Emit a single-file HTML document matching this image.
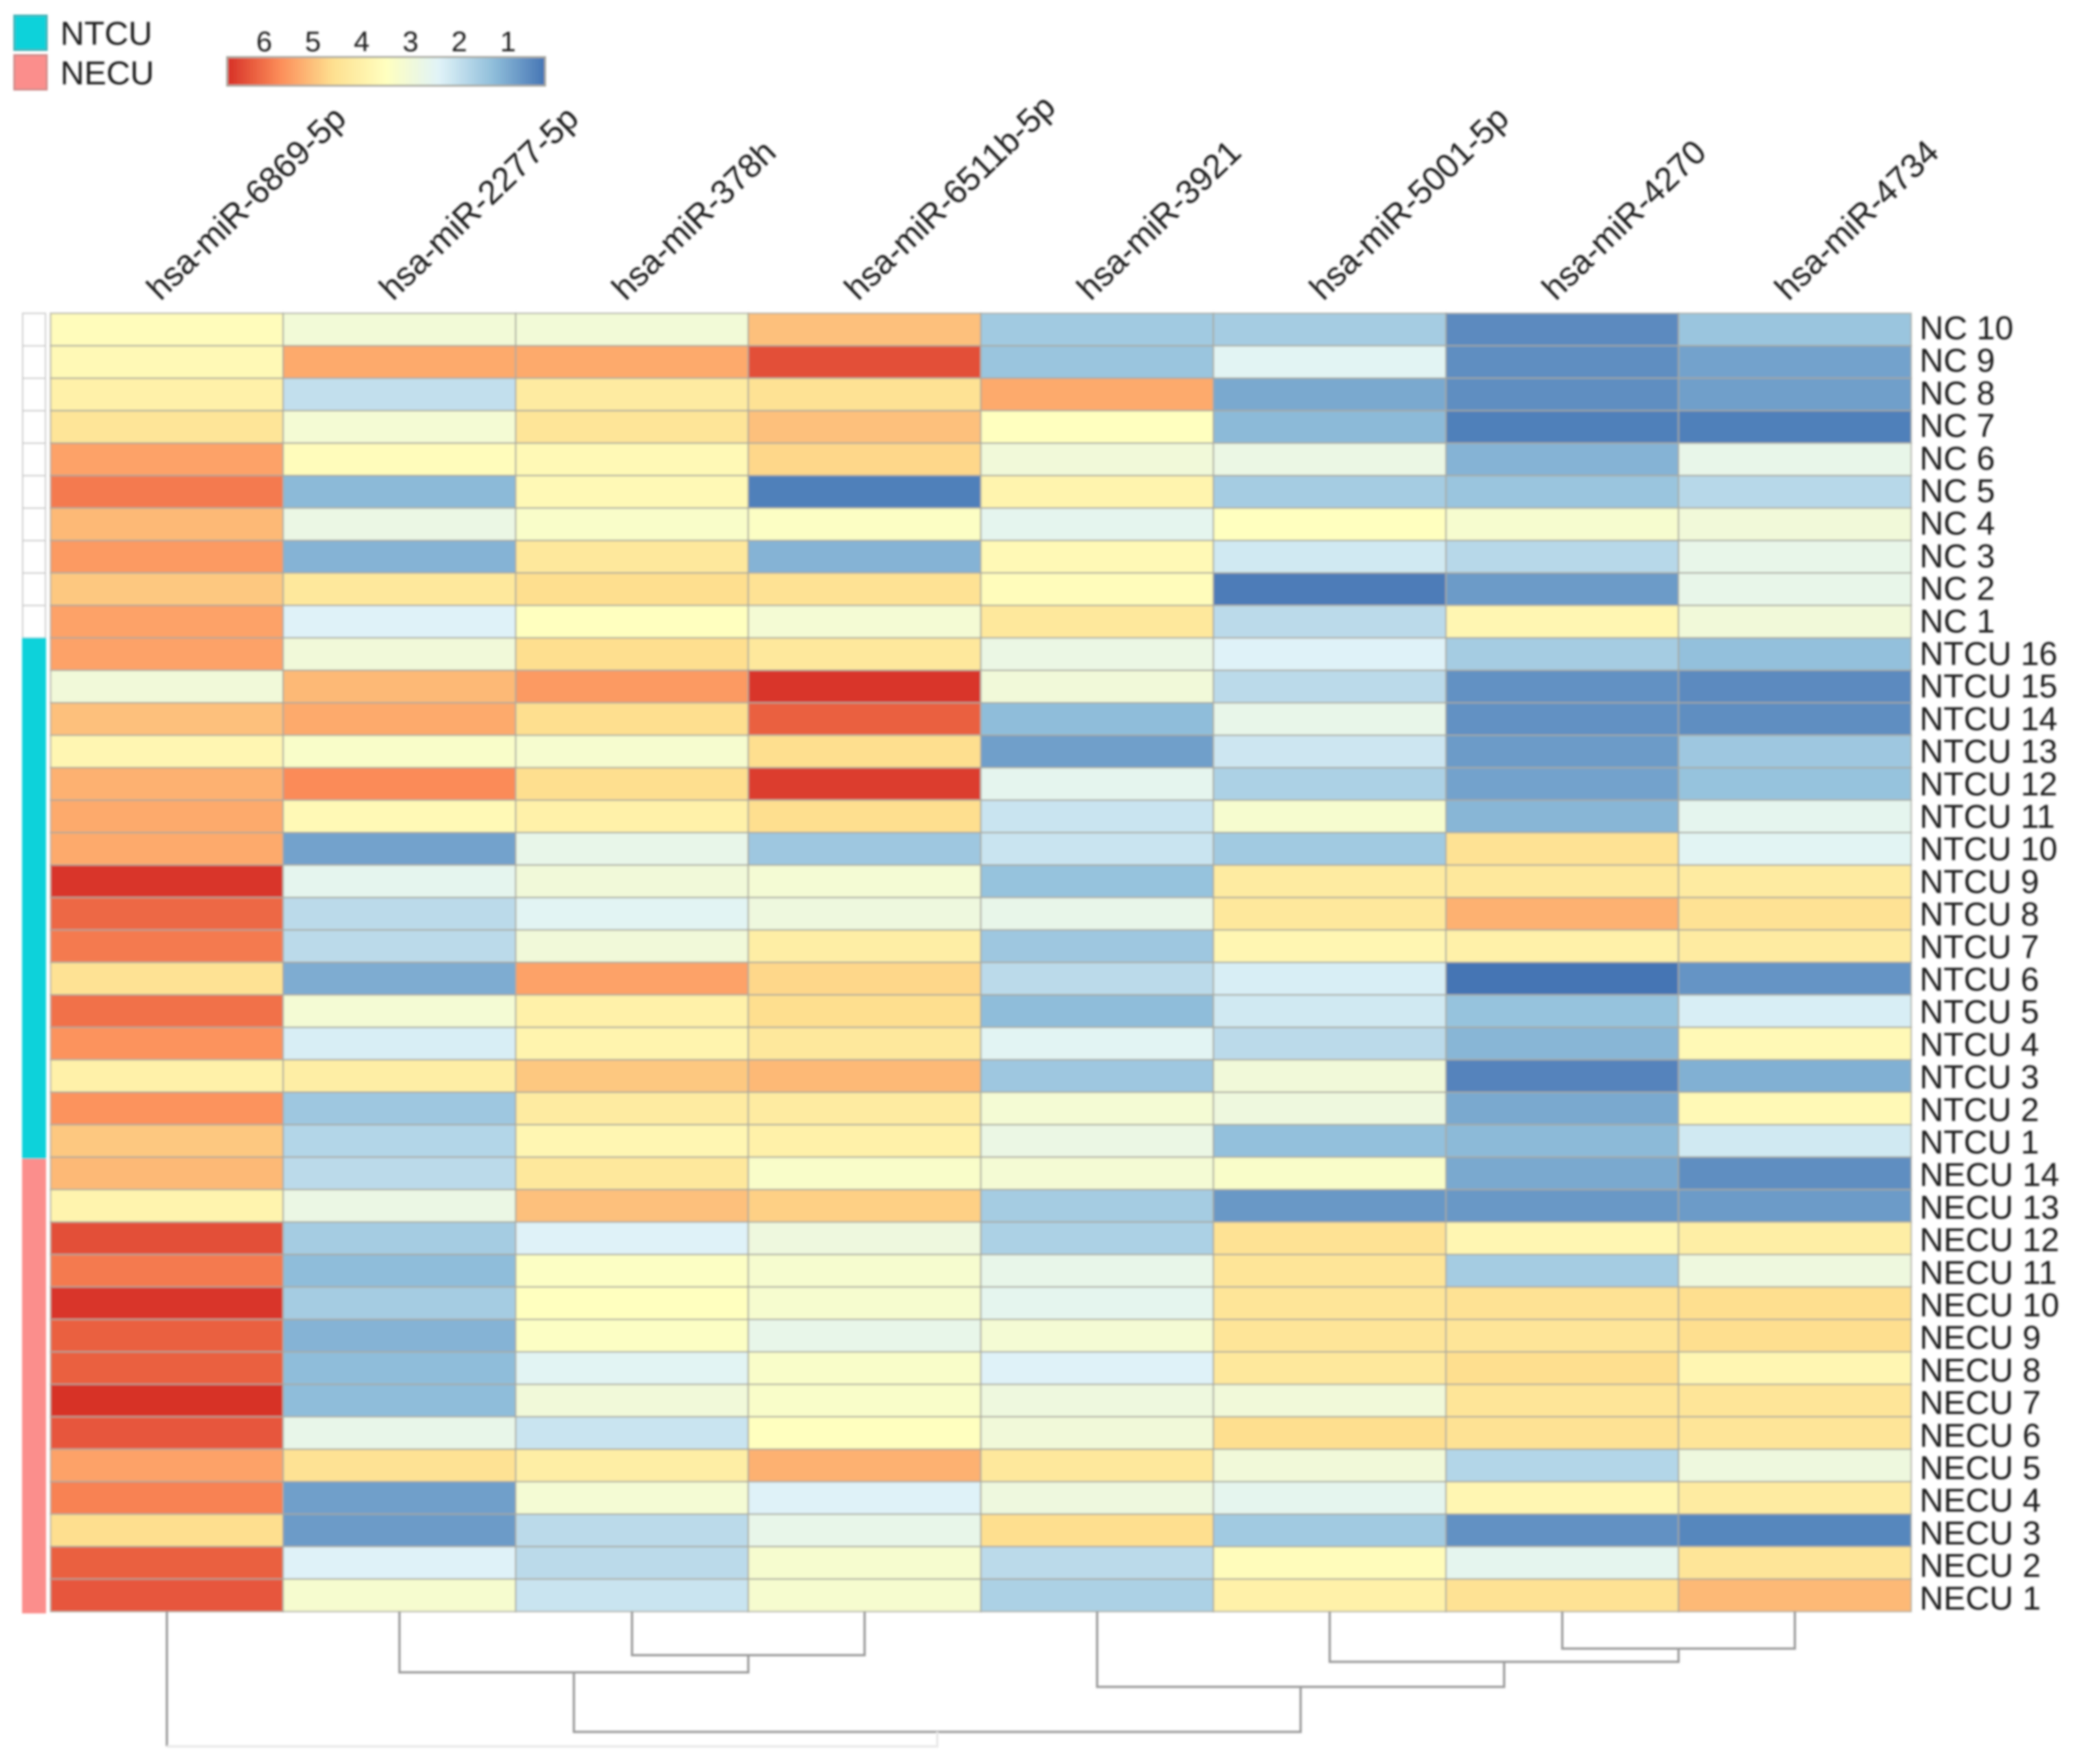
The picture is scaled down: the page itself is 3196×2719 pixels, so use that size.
<!DOCTYPE html>
<html lang="en">
<head>
<meta charset="utf-8">
<title>miRNA expression heatmap</title>
<style>
html,body{margin:0;padding:0;background:#fff;width:3196px;height:2719px;overflow:hidden}
svg{display:block}
text{font-family:"Liberation Sans",sans-serif;fill:#1c1c1c}
</style>
</head>
<body>
<svg id="chart" xmlns="http://www.w3.org/2000/svg" width="3196" height="2719" viewBox="0 0 3196 2719">
  <defs>
    <filter id="soft" x="-2%" y="-2%" width="104%" height="104%"><feGaussianBlur stdDeviation="1.5"/></filter>
  </defs>
  <g id="root" filter="url(#soft)"></g>
</svg>
<script>
const colLabels = ["hsa-miR-6869-5p","hsa-miR-2277-5p","hsa-miR-378h","hsa-miR-6511b-5p","hsa-miR-3921","hsa-miR-5001-5p","hsa-miR-4270","hsa-miR-4734"];
const rowLabels = ["NC 10","NC 9","NC 8","NC 7","NC 6","NC 5","NC 4","NC 3","NC 2","NC 1",
"NTCU 16","NTCU 15","NTCU 14","NTCU 13","NTCU 12","NTCU 11","NTCU 10","NTCU 9","NTCU 8","NTCU 7","NTCU 6","NTCU 5","NTCU 4","NTCU 3","NTCU 2","NTCU 1",
"NECU 14","NECU 13","NECU 12","NECU 11","NECU 10","NECU 9","NECU 8","NECU 7","NECU 6","NECU 5","NECU 4","NECU 3","NECU 2","NECU 1"];
const rowGroups = ["NC","NC","NC","NC","NC","NC","NC","NC","NC","NC",
"NTCU","NTCU","NTCU","NTCU","NTCU","NTCU","NTCU","NTCU","NTCU","NTCU","NTCU","NTCU","NTCU","NTCU","NTCU","NTCU",
"NECU","NECU","NECU","NECU","NECU","NECU","NECU","NECU","NECU","NECU","NECU","NECU","NECU","NECU"];
const values = [
[3.6,3.05,3.05,5.0,1.55,1.6,0.55,1.45],
[3.7,5.3,5.3,6.4,1.45,2.5,0.6,0.9],
[4.0,2.0,4.2,4.5,5.3,1.0,0.6,0.85],
[4.4,3.1,4.4,5.0,3.5,1.25,0.4,0.4],
[5.4,3.6,3.7,4.7,3.0,2.8,1.15,2.7],
[5.9,1.25,3.7,0.4,3.9,1.6,1.45,1.85],
[5.1,2.8,3.3,3.4,2.6,3.5,3.2,3.0],
[5.5,1.15,4.3,1.15,3.7,2.2,1.85,2.7],
[4.9,4.3,4.6,4.5,3.6,0.35,0.8,2.7],
[5.4,2.4,3.5,3.1,4.3,1.9,3.8,3.0],
[5.4,3.0,4.6,4.3,2.8,2.4,1.6,1.35],
[3.0,5.1,5.5,6.7,3.0,1.9,0.65,0.55],
[5.0,5.3,4.6,6.2,1.3,2.7,0.65,0.6],
[3.8,3.3,3.2,4.6,0.85,2.15,0.8,1.5],
[5.2,5.7,4.6,6.6,2.6,1.7,0.9,1.4],
[5.3,3.7,4.0,4.6,2.1,3.2,1.2,2.6],
[5.3,0.9,2.7,1.5,2.1,1.55,4.5,2.5],
[6.7,2.6,3.0,3.1,1.4,4.2,4.3,4.2],
[6.1,1.9,2.5,2.9,2.7,4.3,5.2,4.5],
[5.9,1.9,3.0,4.1,1.5,3.8,4.0,4.2],
[4.5,1.05,5.4,4.7,1.9,2.3,0.2,0.7],
[6.0,3.1,4.0,4.6,1.3,2.2,1.4,2.3],
[5.6,2.3,3.9,4.3,2.5,1.9,1.2,3.7],
[4.0,4.1,4.9,5.1,1.5,3.0,0.45,1.1],
[5.6,1.5,4.2,4.2,3.1,2.9,1.0,3.7],
[4.9,1.8,3.8,4.0,2.8,1.35,1.25,2.2],
[5.1,1.9,4.3,3.3,3.1,3.3,1.0,0.6],
[3.9,2.8,5.0,4.8,1.6,0.75,0.75,0.8],
[6.4,1.6,2.4,2.9,1.7,4.5,3.8,4.1],
[5.9,1.3,3.4,3.2,2.7,4.4,1.6,2.9],
[6.7,1.6,3.5,3.2,2.6,4.4,4.5,4.6],
[6.2,1.15,3.4,2.7,3.1,4.4,4.4,4.6],
[6.2,1.3,2.5,3.3,2.4,4.3,4.6,3.8],
[6.8,1.3,3.0,3.3,2.9,3.0,4.4,4.4],
[6.3,2.7,2.1,3.5,3.0,4.6,4.5,4.4],
[5.4,4.5,4.1,5.2,4.3,3.0,1.8,2.9],
[5.8,0.85,3.1,2.4,2.9,2.6,3.8,4.2],
[4.6,0.8,1.9,2.7,4.6,1.55,0.65,0.5],
[6.2,2.4,1.9,3.2,1.9,3.6,2.6,4.4],
[6.3,3.2,2.1,3.2,1.7,4.0,4.5,5.1]
];
const legendTicks = [6,5,4,3,2,1];
const legendGroups = ["NTCU","NECU"];
// dendrogram merges: [left, right, height]; ids 0-7 are columns, 8+ are earlier merges
const merges = [
[2,3,33],
[1,8,46],
[6,7,28],
[5,10,38],
[4,11,57],
[9,12,91],
[0,13,102]
];

const NS = "http://www.w3.org/2000/svg";
const root = document.getElementById("root");
const plot = {x0:78, x1:2945, y0:483, y1:2484};
const ramp = [[69,117,180],[145,191,219],[224,243,248],[255,255,191],[254,224,144],[252,141,89],[215,48,39]];
const domainMin = 0.24, domainMax = 6.76;
const groupColors = {NC:"#ffffff",NTCU:"#08d2da",NECU:"#fb8e8c"};

function colorOf(v){
  const t = Math.max(0,Math.min(1,(v-domainMin)/(domainMax-domainMin)))*(ramp.length-1);
  const i = Math.min(ramp.length-2,Math.floor(t)), f = t-i;
  const c = ramp[i].map((a,k)=>Math.round(a+(ramp[i+1][k]-a)*f));
  return "rgb("+c.join(",")+")";
}
const xBand = (c)=>plot.x0+(plot.x1-plot.x0)*c/colLabels.length;
const yBand = (r)=>plot.y0+(plot.y1-plot.y0)*r/rowLabels.length;
const stripY = (r)=>483+(r<=10?r*50.04:500.4+(r-10)*50.24-(r-26>0?(r-26)*0.34:0));
const labelY = (r)=>523+r*50.2;
const dendY = (h)=>plot.y1+h*2.038;
const legendX = (v)=>350+(domainMax-v)/(domainMax-domainMin)*490;

function mk(tag,attrs,parent){
  const el = document.createElementNS(NS,tag);
  for(const k in attrs) el.setAttribute(k,attrs[k]);
  (parent||root).appendChild(el);
  return el;
}

// heatmap cells
const cellsGroup = mk("g",{});


values.forEach((row,r)=>{
  row.forEach((v,c)=>{
    const cell = mk("rect",{x:xBand(c),y:yBand(r),width:xBand(c+1)-xBand(c),height:yBand(r+1)-yBand(r),fill:colorOf(v),stroke:"#a8a89e","stroke-opacity":"0.7","stroke-width":"2.6"},cellsGroup);
    
    
  });
});

// annotation strip
const stripGroup = mk("g",{});


rowGroups.forEach((g,r)=>{
  const a = mk("rect",{x:35,y:stripY(r),width:35,height:stripY(r+1)-stripY(r),fill:groupColors[g],stroke:g==="NC"?"#c9c9c9":groupColors[g],"stroke-width":"2"},stripGroup);
  
  
});

// row labels
const rowGroup = mk("g",{});


rowLabels.forEach((t,r)=>{
  const lab = mk("text",{x:2958,y:labelY(r),"font-size":"51"},rowGroup);
  lab.textContent = t;
  
  
});

// column labels
const colGroup = mk("g",{});


colLabels.forEach((t,c)=>{
  const cx = (xBand(c)+xBand(c+1))/2-10, cy = 465;
  const lab = mk("text",{x:cx,y:cy,"font-size":"52",transform:"rotate(-44 "+cx+" "+cy+")"},colGroup);
  lab.textContent = t;
  
  
});

// dendrogram
const dendGroup = mk("g",{fill:"none"});


const nodes = colLabels.map((_,c)=>({x:(xBand(c)+xBand(c+1))/2,h:0}));
merges.forEach((m,i)=>{
  const a = nodes[m[0]], b = nodes[m[1]], y = dendY(m[2]);
  const last = i===merges.length-1;
  if(last){
    const leg = mk("path",{d:"M"+a.x+" "+dendY(a.h)+"V"+y,stroke:"#9a9a9a","stroke-width":"3.5"},dendGroup);
    
    
    const top = mk("path",{d:"M"+a.x+" "+y+"H"+b.x+"V"+dendY(b.h),stroke:"#e8e8e8","stroke-width":"3.5"},dendGroup);
    
    
  } else {
    const p = mk("path",{d:"M"+a.x+" "+dendY(a.h)+"V"+y+"H"+b.x+"V"+dendY(b.h),stroke:"#9a9a9a","stroke-width":"3.5"},dendGroup);
    
    
  }
  nodes.push({x:(a.x+b.x)/2,h:m[2]});
});

// group legend
const legendBox = mk("g",{});


legendGroups.forEach((g,i)=>{
  const y = 24+i*61;
  const s = mk("rect",{x:22,y:y,width:50,height:53,fill:groupColors[g],stroke:g==="NTCU"?"#3fb0b5":"#cf8a8a","stroke-width":"3"},legendBox);
  
  
  const t = mk("text",{x:93,y:y+45,"font-size":"51"},legendBox);
  t.textContent = g;
  
  
});

// colour bar
const barGroup = mk("g",{});


const steps = 98;
for(let i=0;i<steps;i++){
  const v0 = domainMax-(domainMax-domainMin)*i/steps;
  const v1 = domainMax-(domainMax-domainMin)*(i+1)/steps;
  const seg = mk("rect",{x:legendX(v0),y:88,width:legendX(v1)-legendX(v0)+0.6,height:44,fill:colorOf((v0+v1)/2)},barGroup);
  
  
}
const barFrame = mk("rect",{x:350,y:88,width:490,height:44,fill:"none",stroke:"#a9a9a0","stroke-width":"3"},barGroup);


legendTicks.forEach((v)=>{
  const t = mk("text",{x:legendX(v),y:79,"font-size":"44","text-anchor":"middle"},barGroup);
  t.textContent = v;
  
  
});
</script>
</body>
</html>
